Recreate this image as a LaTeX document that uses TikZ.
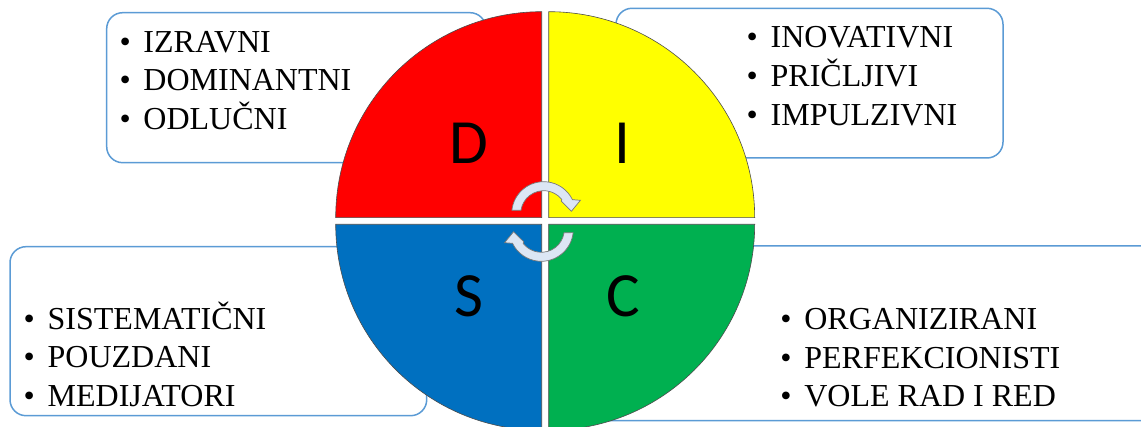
\documentclass[tikz,border=0pt]{standalone}
\usepackage{fontspec}
\setmainfont{Liberation Serif}
\newfontfamily\letterfont{Carlito}
\usepackage{tikz}
\definecolor{discred}{RGB}{255,0,0}
\definecolor{discyellow}{RGB}{255,255,0}
\definecolor{discgreen}{RGB}{0,176,80}
\definecolor{discblue}{RGB}{0,112,192}
\definecolor{boxline}{RGB}{91,155,213}
\definecolor{arrowfill}{RGB}{220,230,244}
\definecolor{arrowline}{RGB}{120,120,120}
\newcommand{\blt}{\makebox[24pt][l]{\textbullet}}
\newcommand{\traits}[3]{\begin{tabular}[t]{@{}l@{}}\blt #1\\ \blt #2\\ \blt #3\end{tabular}}
\tikzset{
  listbox/.style ={rectangle, rounded corners=16pt, draw=boxline, line width=1.5pt,
                   fill=white, inner sep=0pt},
  listtext/.style={anchor=base west, inner sep=0pt, font=\fontsize{32}{38.5}\selectfont},
  quad/.style    ={draw=black!70, line width=0.6pt},
  letter/.style  ={inner sep=0pt, font=\letterfont\fontsize{63}{63}\selectfont},
  cyclearrow/.pic={
    \filldraw[fill=arrowfill, draw=arrowline, line width=0.7pt]
      (174:32) arc[start angle=174, end angle=26, radius=32]
      -- (36.7,13.4) -- (27.7,2.4) -- (17.5,12.5)
      -- (38:23) arc[start angle=38, end angle=171.5, radius=23] -- cycle;
  },
}

\begin{document}
\begin{tikzpicture}[x=1pt, y=1pt]
\useasboundingbox (0,0) rectangle (1141,427);
\clip (0,0) rectangle (1141,427);
% trait boxes
\node[listbox, minimum width=379.3, minimum height=150] (boxD) at (296.35,339.3) {};
\node[listbox, minimum width=387, minimum height=149.7] (boxI) at (809.5,343.85) {};
\node[listbox, minimum width=416.7, minimum height=169] (boxS) at (218.35,95.8) {};
\node[listbox, minimum width=610, minimum height=174.7] (boxC) at (865,93.65) {};
\node[listtext] (listD) at (119.3,374.7) {\traits{IZRAVNI}{DOMINANTNI}{ODLUČNI}};
\node[listtext] (listI) at (746.5,379.3) {\traits{INOVATIVNI}{PRIČLJIVI}{IMPULZIVNI}};
\node[listtext] (listS) at (23.5,97.7) {\traits{SISTEMATIČNI}{POUZDANI}{MEDIJATORI}};
\node[listtext] (listC) at (780.2,97) {\traits{ORGANIZIRANI}{PERFEKCIONISTI}{VOLE RAD I RED}};
% DISC circle
\coordinate (cD) at (541.7,209.3);
\coordinate (cI) at (548.7,209.3);
\coordinate (cS) at (541.7,202.7);
\coordinate (cC) at (548.7,202.7);
\draw[quad, fill=discred] (cD) -- ++(-206,0) arc[start angle=180, end angle=90, radius=206] -- cycle;
\draw[quad, fill=discyellow] (cI) -- ++(206,0) arc[start angle=0, end angle=90, radius=206] -- cycle;
\draw[quad, fill=discblue] (cS) -- ++(-206,0) arc[start angle=180, end angle=270, radius=206] -- cycle;
\draw[quad, fill=discgreen] (cC) -- ++(206,0) arc[start angle=0, end angle=-90, radius=206] -- cycle;
\node[letter] (d) at (469,283.7) {D};
\node[letter] (i) at (622.5,283.7) {I};
\node[letter] (s) at (469,130.3) {S};
\node[letter] (c) at (623,130.3) {C};
% cycle arrows
\pic (arrowtop) at (543.7,213.3) {cyclearrow};
\pic[rotate=180] (arrowbot) at (541.3,197.7) {cyclearrow};
\end{tikzpicture}
\end{document}
